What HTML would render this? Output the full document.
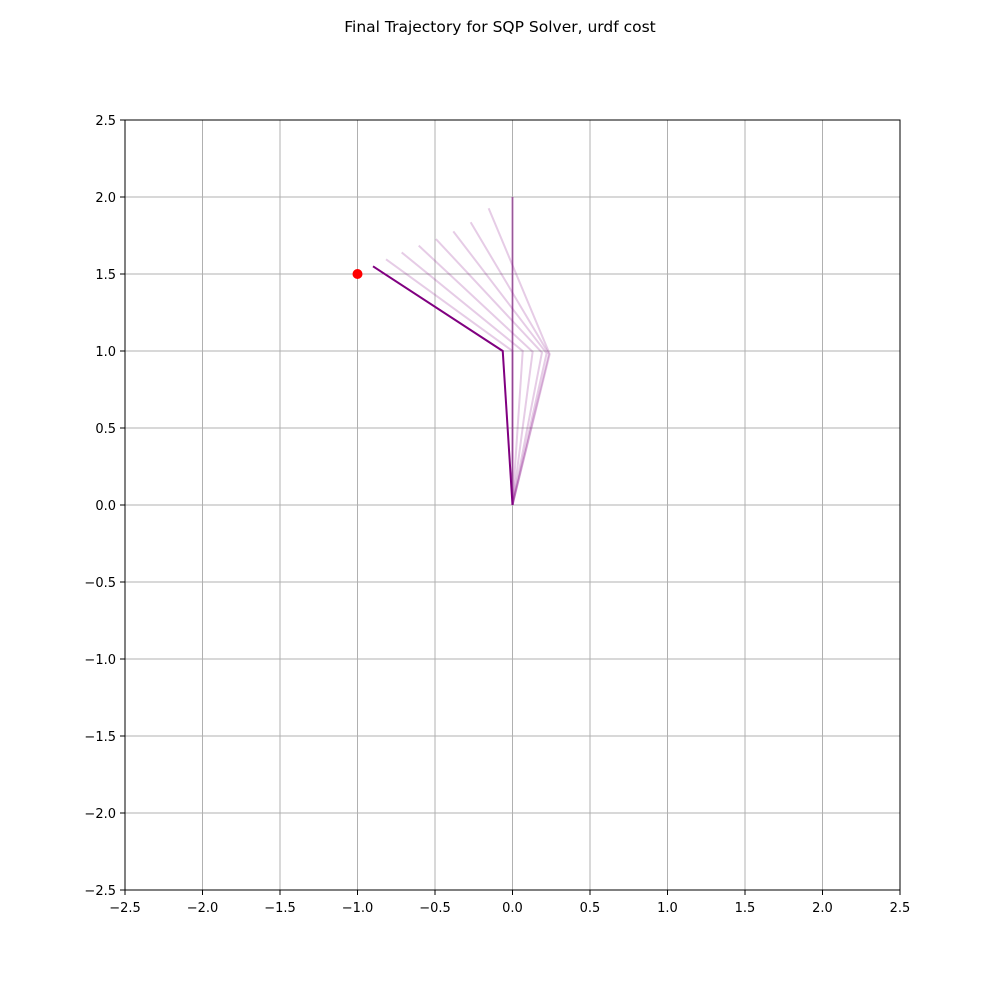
<!DOCTYPE html>
<html><head><meta charset="utf-8"><style>
body{margin:0;background:#fff;font-family:"Liberation Sans","DejaVu Sans",sans-serif}
svg text{font-family:"DejaVu Sans","Liberation Sans",sans-serif}
</style></head><body>
<svg id="chart" width="1000" height="1000" viewBox="0 0 1000 1000">
<rect width="1000" height="1000" fill="#fff"/>
<text x="500" y="32" text-anchor="middle" font-size="15.5">Final Trajectory for SQP Solver, urdf cost</text>
<g id="grid"></g>
<g id="marks"></g>
<rect x="125" y="120" width="775" height="770" fill="none" stroke="#000" stroke-width="1"/>
<g id="ticks"></g>
</svg>
<script>
const ticks=[-2.5,-2,-1.5,-1,-0.5,0,0.5,1,1.5,2,2.5];
const tickLabels=["\u22122.5","\u22122.0","\u22121.5","\u22121.0","\u22120.5","0.0","0.5","1.0","1.5","2.0","2.5"];
const elbowX=[0,0,0,0.24,0.235,0.22,0.19,0.13,0.066,0.0];
const elbowY=[1.0,1.0,1.0,0.98,0.98,0.985,0.99,0.995,1.0,1.0];
const tipX=[0,0,0,-0.154,-0.27,-0.382,-0.494,-0.605,-0.715,-0.816];
const tipY=[2.0,2.0,2.0,1.927,1.836,1.777,1.727,1.684,1.64,1.595];
const finalX=[0,-0.063,-0.90];
const finalY=[0,1.0,1.55];
const goal=[-1,1.5];
const NS="http://www.w3.org/2000/svg";
const sx=v=>512.5+v*155, sy=v=>505-v*154;
function mk(t,a,p){const e=document.createElementNS(NS,t);for(const k in a)e.setAttribute(k,a[k]);p.appendChild(e);return e;}
const G=document.getElementById('grid'),M=document.getElementById('marks'),T=document.getElementById('ticks');
ticks.forEach((t,i)=>{
 let l=mk('line',{x1:sx(t),x2:sx(t),y1:120,y2:890,stroke:'#b0b0b0','stroke-width':1},G);
 
 
 l=mk('line',{x1:125,x2:900,y1:sy(t),y2:sy(t),stroke:'#b0b0b0','stroke-width':1},G);
 
 
 mk('line',{x1:sx(t),x2:sx(t),y1:890,y2:895,stroke:'#000'},T);
 mk('line',{x1:120,x2:125,y1:sy(t),y2:sy(t),stroke:'#000'},T);
 let tx=mk('text',{x:sx(t),y:912,'text-anchor':'middle','font-size':13},T);tx.textContent=tickLabels[i];
 
 
 tx=mk('text',{x:116,y:sy(t)+5,'text-anchor':'end','font-size':13},T);tx.textContent=tickLabels[i];
 
 
});
elbowX.forEach((ex,i)=>{
 const p=mk('polyline',{points:`${sx(0)},${sy(0)} ${sx(ex)},${sy(elbowY[i])} ${sx(tipX[i])},${sy(tipY[i])}`,fill:'none',stroke:'purple','stroke-opacity':0.2,'stroke-width':2},M);
 
 
});
const fp=mk('polyline',{points:finalX.map((x,i)=>sx(x)+','+sy(finalY[i])).join(' '),fill:'none',stroke:'purple','stroke-width':2},M);


const g=mk('circle',{cx:sx(goal[0]),cy:sy(goal[1]),r:5,fill:'red'},M);


</script>
</body></html>
